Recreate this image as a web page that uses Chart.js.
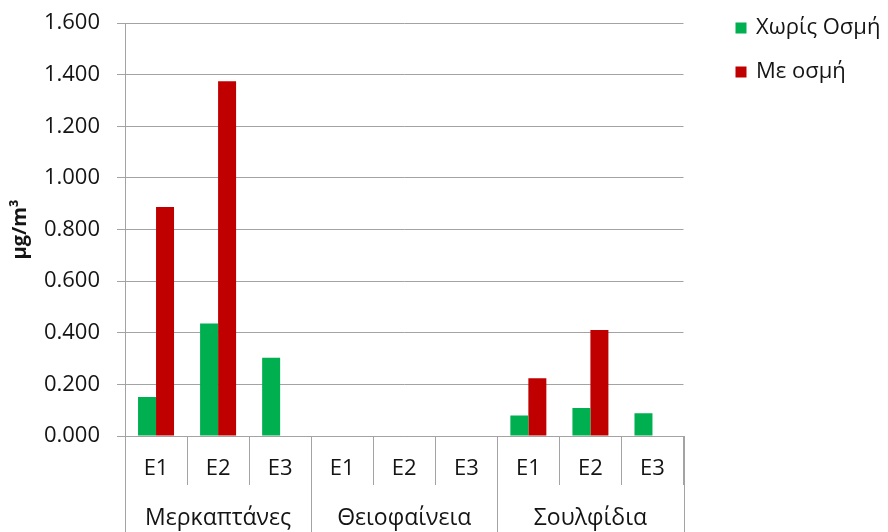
<!DOCTYPE html>
<html>
<head>
<meta charset="utf-8">
<script src="https://cdn.jsdelivr.net/npm/chart.js@4/dist/chart.umd.min.js"></script>
<style>
  html, body { margin: 0; padding: 0; background: #ffffff; }
  canvas { display: block; }
</style>
</head>
<body>
<canvas id="chart" width="888" height="532"></canvas>
<script>
// Compound groups and sampling sites along the x axis
const compounds = ['Μερκαπτάνες', 'Θειοφαίνεια', 'Σουλφίδια'];
const sites = ['E1', 'E2', 'E3'];
const categories = compounds.flatMap(() => sites);

// Concentrations in μg/m³
const withoutOdour = [0.151, 0.436, 0.303, 0, 0, 0, 0.079, 0.108, 0.088];
const withOdour    = [0.887, 1.374, 0,     0, 0, 0, 0.224, 0.411, 0];

const seriesNames = ['Χωρίς Οσμή', 'Με οσμή'];
const seriesColors = ['#00B050', '#C00000'];

const yMin = 0, yMax = 1.6, yStep = 0.2;

const FONT = "'Open Sans', 'Noto Sans', sans-serif";
const TEXT = '#141414';
const GRID = '#a3a3a3';

// Second row of the x axis: compound names and the long separators between groups
const groupAxis = {
  id: 'groupAxis',
  afterDraw(chart) {
    const x = chart.scales.x;
    const ctx = chart.ctx;
    const step = x.getPixelForValue(1) - x.getPixelForValue(0);
    const n = sites.length;
    ctx.save();
    ctx.strokeStyle = GRID;
    ctx.lineWidth = 1;
    for (let g = 0; g <= compounds.length; g++) {
      const px = Math.round(x.getPixelForValue(g * n) - step / 2) + 0.5;
      ctx.beginPath();
      ctx.moveTo(px, x.top);
      ctx.lineTo(px, chart.height);
      ctx.stroke();
    }
    ctx.fillStyle = TEXT;
    ctx.font = '23px ' + FONT;
    ctx.textAlign = 'center';
    ctx.textBaseline = 'middle';
    compounds.forEach((name, g) => {
      const cx = (x.getPixelForValue(g * n) + x.getPixelForValue(g * n + n - 1)) / 2;
      ctx.fillText(name, cx, 518);
    });
    ctx.restore();
  }
};

// Legend at the upper right, built from the datasets
const sideLegend = {
  id: 'sideLegend',
  afterDraw(chart) {
    const ctx = chart.ctx;
    ctx.save();
    ctx.font = '22px ' + FONT;
    ctx.textBaseline = 'middle';
    ctx.textAlign = 'left';
    chart.data.datasets.forEach((ds, i) => {
      const cy = 28 + i * 44;
      ctx.fillStyle = ds.backgroundColor;
      ctx.fillRect(735.5, cy - 5.5, 11, 11);
      ctx.fillStyle = TEXT;
      ctx.fillText(ds.label, 756, cy);
    });
    ctx.restore();
  }
};

new Chart(document.getElementById('chart'), {
  type: 'bar',
  data: {
    labels: categories,
    datasets: [
      { label: seriesNames[0], data: withoutOdour, backgroundColor: seriesColors[0], borderWidth: 0 },
      { label: seriesNames[1], data: withOdour, backgroundColor: seriesColors[1], borderWidth: 0 }
    ]
  },
  options: {
    responsive: false,
    animation: false,
    layout: { padding: { top: 0, right: 204.5, bottom: 0, left: 0 } },
    datasets: { bar: { categoryPercentage: 0.58, barPercentage: 1.0 } },
    plugins: {
      legend: { display: false },
      tooltip: { enabled: false }
    },
    scales: {
      x: {
        offset: true,
        grid: {
          offset: true,
          drawOnChartArea: false,
          drawTicks: true,
          tickLength: 49,
          color: GRID,
          lineWidth: 1
        },
        border: { display: true, color: GRID, width: 1 },
        ticks: {
          color: TEXT,
          font: { family: FONT, size: 22 },
          padding: -29,
          maxRotation: 0,
          autoSkip: false
        },
        afterFit(s) { s.height = 96; }
      },
      y: {
        min: yMin,
        max: yMax,
        grid: {
          color: GRID,
          lineWidth: 1,
          drawTicks: true,
          tickLength: 8
        },
        border: { display: true, color: GRID, width: 1 },
        ticks: {
          stepSize: yStep,
          color: TEXT,
          font: { family: FONT, size: 22 },
          padding: 17,
          callback: (v) => Number(v).toFixed(3)
        },
        title: {
          display: true,
          text: 'μg/m³',
          color: TEXT,
          font: { family: FONT, size: 20, weight: 'bold' },
          padding: { top: 8, bottom: 0 }
        },
        afterFit(s) { s.width = 125; s.paddingTop = 23; }
      }
    }
  },
  plugins: [groupAxis, sideLegend]
});
</script>
</body>
</html>
